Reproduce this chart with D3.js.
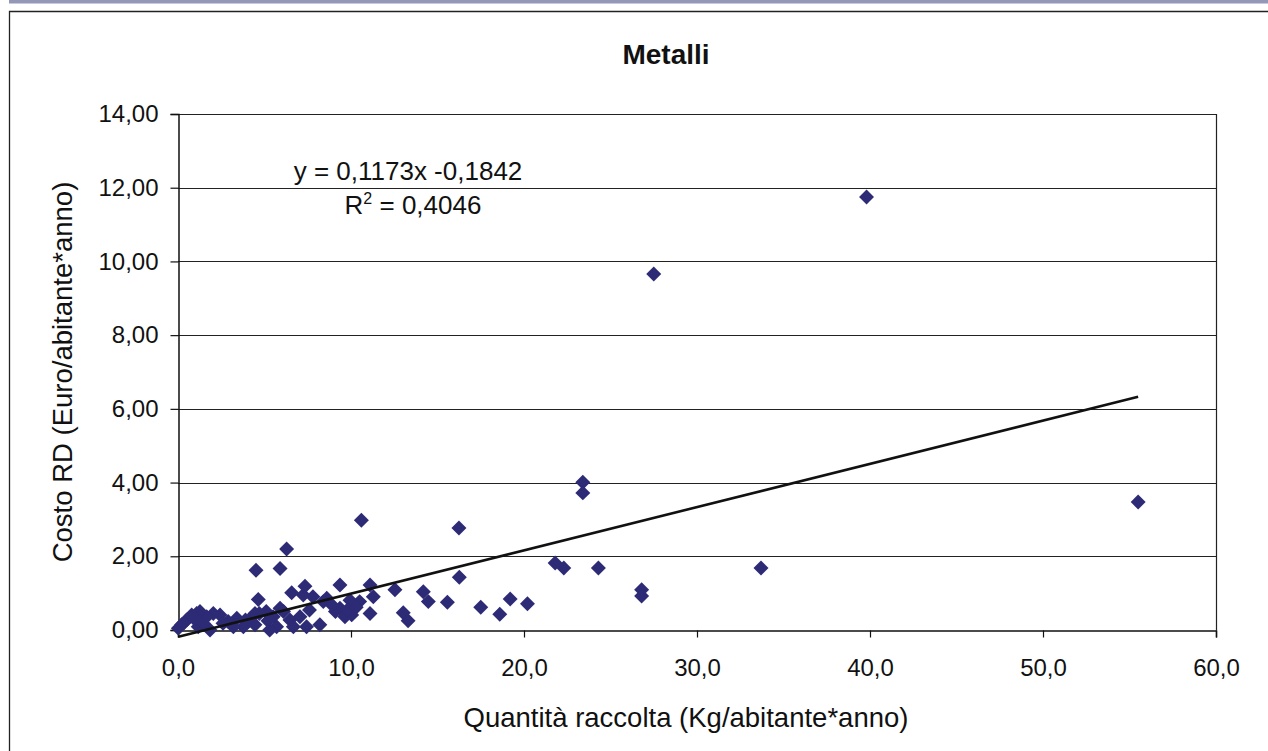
<!DOCTYPE html>
<html>
<head>
<meta charset="utf-8">
<script src="https://cdn.jsdelivr.net/npm/d3@7"></script>
<style>
  html, body { margin: 0; padding: 0; background: #fff; }
  svg { display: block; }
  text { font-family: "Liberation Sans", Arial, sans-serif; fill: #111; }
</style>
</head>
<body>
<svg id="chart" width="1268" height="751"></svg>
<script>
// ---- data ----
const chartTitle = "Metalli";
const xAxisTitle = "Quantità raccolta (Kg/abitante*anno)";
const yAxisTitle = "Costo RD (Euro/abitante*anno)";
const xTicks = [0, 10, 20, 30, 40, 50, 60];
const yTicks = [0, 2, 4, 6, 8, 10, 12, 14];
const slope = 0.1173;
const intercept = -0.1842;
const rSquared = "0,4046";

const xValues = [
  39.8, 27.5, 55.5, 33.7, 23.4, 23.4, 26.8, 26.8, 24.3, 22.3, 21.8, 20.2,
  19.2, 18.6, 17.5, 16.24, 16.26, 15.57, 14.47, 14.18, 12.54, 13.02, 13.3, 10.6,
  11.1, 11.29, 11.1, 10.5, 9.94, 9.36, 9.65, 10.04, 9.36, 8.4, 7.8, 7.24,
  7.6, 7.05, 8.2, 6.47, 6.67, 5.9, 5.5, 5.7, 7.43, 6.28, 4.51, 5.9,
  6.57, 7.34, 4.64, 5.3, 5.1, 4.7, 4.2, 3.4, 2.9, 2.43, 2.04, 1.66,
  1.27, 1.08, 0.79, 0.5, 0.21, 0.02, 1.17, 1.85, 1.46, 3.78, 4.45, 3.2,
  4.45, 8.6, 9.1, 9.8, 3.9, 2.6, 0.95, 0.35, 6.1, 8.9, 10.3, 5.2
];
const yValues = [
  11.75, 9.66, 3.47, 1.68, 4.01, 3.72, 1.09, 0.92, 1.68, 1.68, 1.82, 0.71,
  0.84, 0.43, 0.62, 2.77, 1.43, 0.75, 0.77, 1.04, 1.09, 0.47, 0.25, 2.98,
  1.22, 0.9, 0.45, 0.77, 0.81, 0.59, 0.36, 0.41, 1.22, 0.77, 0.9, 0.95,
  0.54, 0.36, 0.14, 0.27, 0.09, 0.59, 0.36, 0.09, 0.09, 2.2, 1.62, 1.67,
  1.01, 1.19, 0.83, 0.0, 0.5, 0.45, 0.32, 0.32, 0.23, 0.41, 0.45, 0.36,
  0.5, 0.45, 0.41, 0.27, 0.14, 0.05, 0.09, 0.0, 0.18, 0.09, 0.14, 0.09,
  0.45, 0.86, 0.5, 0.55, 0.27, 0.18, 0.3, 0.2, 0.5, 0.68, 0.62, 0.25
];

// ---- layout ----
const svg = d3.select("#chart");
const W = 1268, H = 751;
const mLeft = 178, mRight = 1216, mTop = 114, mBottom = 630;
const fmtIt = (v, d) => v.toFixed(d).replace(".", ",");

// outer decoration
svg.append("rect").attr("x", 9).attr("y", 0).attr("width", W - 9).attr("height", 3.5).attr("fill", "#9397b8");
svg.append("path").attr("d", `M9.5,${H}V11.5H${W}`).attr("fill", "none").attr("stroke", "#222").attr("stroke-width", 1.3);

const x = d3.scaleLinear().domain([0, 60]).range([mLeft, mRight]);
const y = d3.scaleLinear().domain([0, 14]).range([mBottom, mTop]);

// gridlines
svg.append("g").selectAll("line").data(yTicks.filter(t => t > 0)).join("line")
  .attr("x1", mLeft).attr("x2", mRight)
  .attr("y1", d => Math.round(y(d)) + 0.5).attr("y2", d => Math.round(y(d)) + 0.5)
  .attr("stroke", "#222").attr("stroke-width", 1.2);
// right border
svg.append("line").attr("x1", mRight + 0.5).attr("x2", mRight + 0.5).attr("y1", mTop).attr("y2", mBottom)
  .attr("stroke", "#222").attr("stroke-width", 1.2);

// axes
const xAxis = d3.axisBottom(x).tickValues(xTicks).tickSize(7).tickPadding(21).tickFormat(d => fmtIt(d, 1));
const gx = svg.append("g").attr("transform", `translate(0,${mBottom + 0.5})`).call(xAxis);
const yAxis = d3.axisLeft(y).tickValues(yTicks).tickSize(8).tickPadding(12).tickFormat(d => fmtIt(d, 2));
const gy = svg.append("g").attr("transform", `translate(${mLeft + 0.5},0)`).call(yAxis);
[gx, gy].forEach(g => {
  g.select(".domain").attr("stroke", "#111").attr("stroke-width", 1.5);
  g.selectAll(".tick line").attr("stroke", "#111").attr("stroke-width", 1.2);
  g.selectAll(".tick text").attr("font-size", 24).attr("fill", "#222")
    .style("font-family", '"Liberation Sans", Arial, sans-serif');
});

// points (diamonds)
svg.append("g").selectAll("path").data(xValues.map((v, i) => [v, yValues[i]])).join("path")
  .attr("d", d3.symbol().type(d3.symbolSquare).size(112))
  .attr("transform", d => `translate(${x(d[0])},${y(d[1])}) rotate(45)`)
  .attr("fill", "#2d2b76");

// trendline
const xMin = d3.min(xValues), xMax = d3.max(xValues);
svg.append("line")
  .attr("x1", x(xMin)).attr("y1", y(slope * xMin + intercept))
  .attr("x2", x(xMax)).attr("y2", y(slope * xMax + intercept))
  .attr("stroke", "#111").attr("stroke-width", 2.6);

// equation
svg.append("text").attr("x", 408).attr("y", 180).attr("text-anchor", "middle").attr("font-size", 26)
  .text(`y = ${fmtIt(slope, 4)}x ${fmtIt(intercept, 4)}`);
const r2 = svg.append("text").attr("x", 413).attr("y", 214).attr("text-anchor", "middle").attr("font-size", 26);
r2.append("tspan").text("R");
r2.append("tspan").attr("font-size", 16).attr("dy", -10).text("2");
r2.append("tspan").attr("dy", 10).text(` = ${rSquared}`);

// titles
svg.append("text").attr("x", 666).attr("y", 64).attr("text-anchor", "middle")
  .attr("font-size", 28).attr("font-weight", "bold").text(chartTitle);
svg.append("text").attr("x", 686).attr("y", 727).attr("text-anchor", "middle")
  .attr("font-size", 27.5).text(xAxisTitle);
svg.append("text").attr("transform", `translate(72,372) rotate(-90)`).attr("text-anchor", "middle")
  .attr("font-size", 27.5).text(yAxisTitle);
</script>
</body>
</html>
